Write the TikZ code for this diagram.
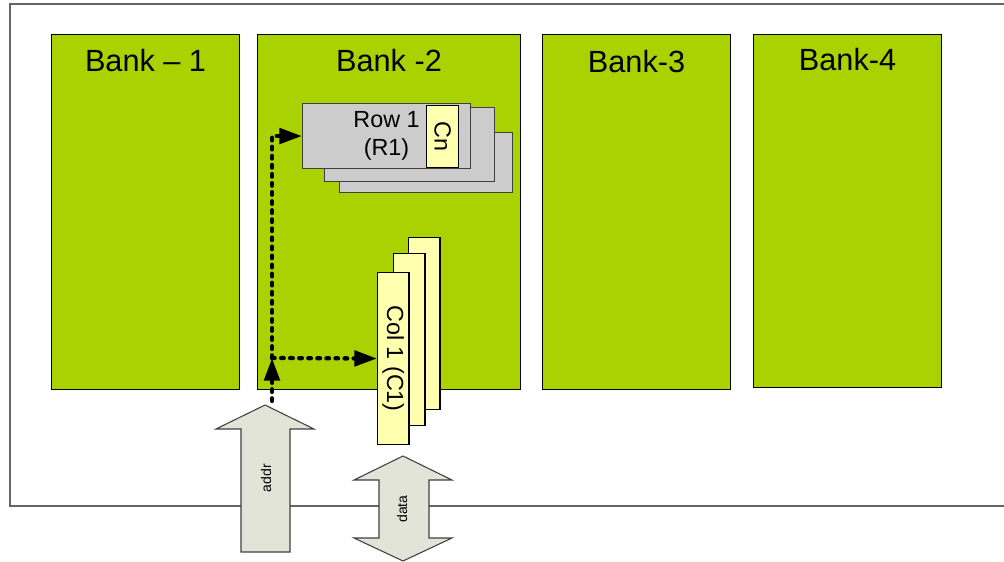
\documentclass[tikz,border=0pt]{standalone}
\usepackage{fontspec}
\setmainfont{Liberation Sans}
\usetikzlibrary{positioning,arrows.meta}
\definecolor{bankgreen}{RGB}{170,209,0}
\definecolor{rowgray}{RGB}{204,204,204}
\definecolor{colyellow}{RGB}{255,255,176}
\definecolor{busfill}{RGB}{225,228,214}
\definecolor{framegray}{RGB}{100,100,100}
\definecolor{edgegray}{RGB}{64,64,64}

\begin{document}
\begin{tikzpicture}[
  x=0.75pt, y=-0.75pt,
  bank/.style={draw=black, line width=0.8pt, fill=bankgreen, anchor=north west,
               minimum width=141pt, minimum height=266.25pt, inner sep=0pt},
  banklab/.style={inner sep=0pt, font=\fontsize{23pt}{27pt}\selectfont},
  rowbox/.style={draw=edgegray, line width=0.8pt, fill=rowgray, anchor=north west,
                 inner sep=0pt},
  colbox/.style={draw=black, line width=0.8pt, fill=colyellow, anchor=north west,
                 minimum width=23.6pt, minimum height=129pt, inner sep=0pt,
                 font=\fontsize{17.5pt}{21pt}\selectfont},
  bus/.style={draw=edgegray, line width=0.8pt, fill=busfill},
  buslab/.style={inner sep=0pt, rotate=90, font=\fontsize{10.5pt}{12pt}\selectfont},
  dotarr/.style={line width=3.2pt, line cap=round, dash pattern=on 2pt off 4.8pt,
                 -{Triangle[length=17pt, width=11.5pt]}}
]
  \useasboundingbox (0,0) rectangle (1004,561);
  % outer frame, runs off the right edge
  \draw[framegray, line width=1pt] (1010,4) -- (10,4) -- (10,506) -- (1010,506);

  % the four banks
  \node[bank] (bank1) at (51,34) {};
  \node[bank, minimum width=197.25pt] (bank2) at (257,34) {};
  \node[bank] (bank3) at (542,34) {};
  \node[bank, minimum height=264.75pt] (bank4) at (753,34) {};
  \node[banklab, below=11.5pt of bank1.north] (lab1) {Bank – 1};
  \node[banklab, below=11.5pt of bank2.north] (lab2) {Bank -2};
  \node[banklab, below=12pt of bank3.north] (lab3) {Bank-3};
  \node[banklab, below=10.25pt of bank4.north] (lab4) {Bank-4};

  % row stack, back to front
  \node[rowbox, minimum width=129.75pt, minimum height=45pt] (row3) at (339,132) {};
  \node[rowbox, minimum width=127.5pt, minimum height=55.5pt] (row2) at (324,107) {};
  \node[rowbox, minimum width=126pt, minimum height=48.75pt, align=center,
        font=\fontsize{17.5pt}{21pt}\selectfont] (row1) at (302,103) {Row 1\\(R1)};
  \node[colbox, minimum width=24pt, minimum height=46.5pt] (cn) at (426,105)
    {\rotatebox{-90}{Cn}};

  % column stack, back to front
  \node[colbox] (col3) at (408,237) {};
  \node[colbox] (col2) at (393,253) {};
  \node[colbox] (col1) at (377,272) {\rotatebox{-90}{Col 1 (C1)}};

  % address and data buses
  \draw[bus] (265,405) -- (314,429) -- (290,429) -- (290,552) -- (241,552)
    -- (241,429) -- (216,429) -- cycle;
  \node[buslab] (addr) at (266,478) {addr};
  \draw[bus] (403,456) -- (452,480) -- (429,480) -- (429,538) -- (452,538)
    -- (403,561) -- (354,538) -- (379,538) -- (379,480) -- (354,480) -- cycle;
  \node[buslab] (data) at (402,509) {data};

  % dotted address path
  \coordinate (addrtop) at (272,401);
  \coordinate (junc) at (272,358);
  \draw[dotarr] (junc) |- (row1.west);
  \draw[dotarr] (junc) -- (col1.west);
  \draw[dotarr] (addrtop) -- (junc);
\end{tikzpicture}
\end{document}
